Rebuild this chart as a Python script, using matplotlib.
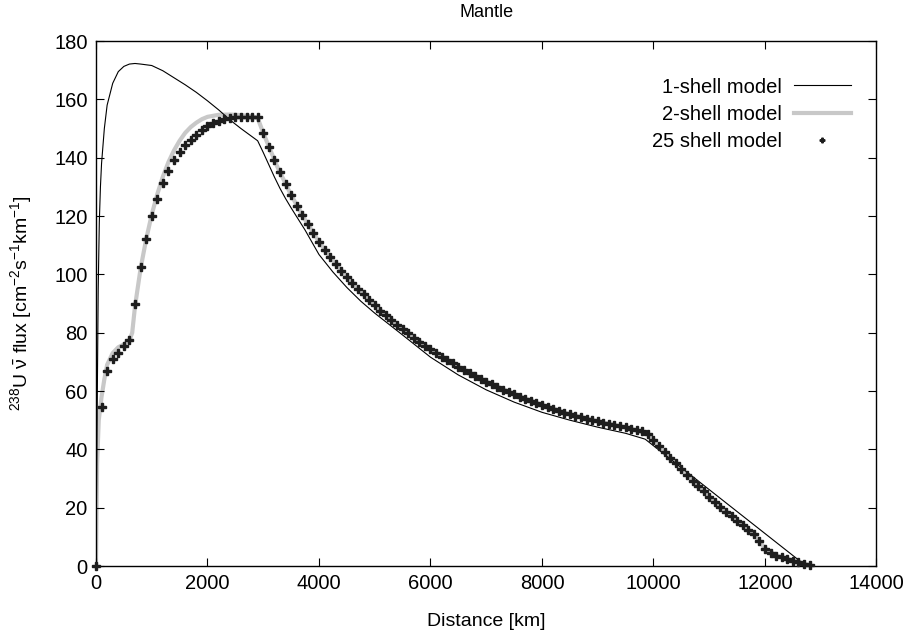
import numpy as np
import matplotlib
matplotlib.use("Agg")
import matplotlib.pyplot as plt

plt.rcParams['font.family'] = ['Liberation Sans', 'DejaVu Sans']
plt.rcParams['mathtext.fontset'] = 'custom'
plt.rcParams['mathtext.rm'] = 'Liberation Sans'
plt.rcParams['mathtext.it'] = 'Liberation Sans:italic'
plt.rcParams['mathtext.default'] = 'regular'

# 1-shell model (thin black line)
x_one = [0, 20, 40, 60, 80, 100, 150, 200, 300, 400, 500, 600, 700, 800, 1000,
         1200, 1400, 1600, 1800, 2000, 2200, 2400, 2600, 2800, 2900, 3000, 3100,
         3200, 3300, 3400, 3500, 3750, 4000, 4250, 4500, 4750, 5000, 5500, 6000,
         6500, 7000, 7500, 8000, 8500, 9000, 9500, 9850, 12740]
y_one = [0, 50, 95, 118, 130, 138, 150, 158, 165.5, 169.5, 171.3, 172.1, 172.3,
         172.1, 171.6, 169.8, 167.4, 165.0, 162.4, 159.5, 156.4, 153.0, 150.0,
         147.2, 145.8, 141.8, 137.6, 133.4, 129.5, 126.0, 122.8, 115.2, 106.8,
         100.8, 95.5, 90.8, 86.7, 79.2, 71.6, 65.5, 60.4, 56.2, 52.7, 50.0, 47.6,
         45.5, 43.5, 0]

# 2-shell model (thick grey line)
x_two = [0, 20, 50, 100, 150, 200, 300, 400, 500, 600, 650, 700, 800, 900, 1000,
         1100, 1200, 1300, 1400, 1500, 1600, 1700, 1800, 1900, 2000, 2200, 2400,
         2600, 2800, 2900, 3000, 3250, 3500, 3750, 4000, 4250, 4500, 4750, 5000,
         5500, 6000, 6500, 7000, 7500, 8000, 8500, 9000, 9500, 9900, 10000,
         10500, 11000, 11500, 11800, 12000, 12200, 12500, 12800]
y_two = [0, 35, 50, 58, 64, 69, 73, 75, 76, 77.3, 80, 89, 102, 112, 120.5, 127.5,
         133.5, 138.5, 142.5, 145.8, 148.5, 150.5, 152, 153.2, 154, 154.7, 154.8,
         154.6, 154.2, 153.6, 148.5, 137, 127.2, 118.7, 111.2, 104.8, 99.1, 94.1,
         89.4, 81.1, 74.3, 68.2, 63.2, 58.9, 55.2, 52.0, 49.6, 47.5, 45.4, 43.2,
         33.2, 23.8, 15.4, 11.0, 6.0, 3.6, 1.8, 0.3]

# 25 shell model (points every 100 km)
x_25 = list(range(0, 12900, 100))
y_25 = [0, 54.6, 66.8, 71, 73.2, 75.5, 77.5, 89.8, 102.6, 112, 120, 126, 131.2,
        135.5, 139.1, 142, 144.2, 146.1, 147.8, 149.5, 150.8, 151.8, 152.5,
        153.1, 153.5, 153.8, 153.9, 153.9, 153.9, 153.9, 148.5, 143.8, 139.2,
        135, 131.1, 127.2, 123.5, 120.3, 117.1, 114.1, 111.2, 108.3, 106, 103.6,
        101.2, 99.1, 97.1, 95.1, 93.1, 91.2, 89.4, 87.5, 85.9, 84.3, 82.7, 81.1,
        79.8, 78.3, 76.9, 75.5, 74.3, 72.9, 71.8, 70.6, 69.5, 68.2, 67.1, 66.1,
        65.1, 64.1, 63.2, 62.3, 61.4, 60.5, 59.7, 58.9, 58.1, 57.3, 56.6, 55.9,
        55.2, 54.5, 53.8, 53.2, 52.6, 52.0, 51.5, 51.0, 50.5, 50.1, 49.6, 49.2,
        48.7, 48.3, 47.9, 47.5, 47.1, 46.7, 46.3, 45.4, 43.2, 41.2, 39.2, 37.2,
        35.2, 33.2, 31.2, 29.3, 27.5, 25.6, 23.8, 22.0, 20.2, 18.6, 17.0, 15.4,
        13.9, 12.4, 11.0, 8.5, 6.0, 4.5, 3.6, 3.0, 2.4, 1.8, 1.3, 0.8, 0.3]

fig = plt.figure(figsize=(9.08, 6.32), dpi=100)
ax = fig.add_axes([0.1057, 0.1044, 0.8596, 0.8307])

ax.plot(x_two, y_two, color='#c8c8c8', lw=3, label='2-shell model', zorder=1)
ax.plot(x_one, y_one, color='black', lw=0.8, label='1-shell model', zorder=2)
ax.plot(x_25, y_25, ls='none', marker='P', ms=5.6, color='#1e1e1e',
        mec='#1e1e1e', mew=1.0, label='25 shell model', zorder=3,
        clip_on=False)

ax.set_xlim(0, 14000)
ax.set_ylim(0, 180)
ax.set_xticks(np.arange(0, 14001, 2000))
ax.set_yticks(np.arange(0, 181, 20))
ax.tick_params(direction='in', length=6, width=0.8, top=True, right=True,
               labelsize=14.5, pad=6)
for s in ax.spines.values():
    s.set_linewidth(1.0)

ax.set_title('Mantle', fontsize=13, pad=17)
ax.set_xlabel('Distance [km]', fontsize=14, labelpad=14)
ax.set_ylabel(r'$^{238}$U $\bar{\nu}$ flux [cm$^{-2}$s$^{-1}$km$^{-1}$]',
              fontsize=14)
ax.yaxis.set_label_coords(-0.0795, 0.5)

handles, labels = ax.get_legend_handles_labels()
order = [1, 0, 2]
ax.legend([handles[i] for i in order], [labels[i] for i in order],
          loc='upper right', bbox_to_anchor=(0.99, 0.965), frameon=False,
          markerfirst=False, fontsize=14.5, handlelength=2.8, markerscale=0.6,
          labelspacing=0.4, handletextpad=0.6)

plt.savefig('out.png', dpi=100)
